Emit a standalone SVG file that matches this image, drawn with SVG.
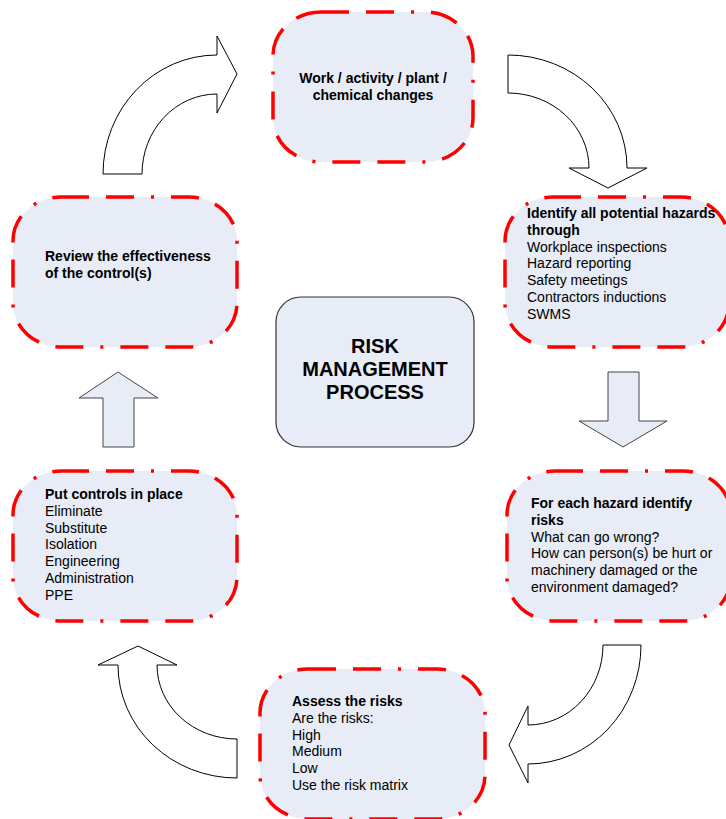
<svg xmlns="http://www.w3.org/2000/svg" width="726" height="819" viewBox="0 0 726 819">
<style>
.node{fill:#e7ecf6;stroke:#ff0000;stroke-width:3.5;stroke-dasharray:28 17 28 17 3 17}
.center{fill:#e7ecf6;stroke:#333;stroke-width:1.2}
.carrow{fill:#fff;stroke:#000;stroke-width:1}
.sarrow{fill:#e7ecf6;stroke:#444;stroke-width:1}
text{font-family:"Liberation Sans",Arial,sans-serif;font-size:14px;fill:#000}
.b{font-weight:bold}
.big{font-size:20px;font-weight:bold}
</style>
<rect width="726" height="819" fill="#fff"/>
<g id="connectors">
<path class="carrow" d="M103,174 A114,119 0 0 1 217,55 L217,36 L237,74 L217,113 L217,94 A75,80 0 0 0 142,174 Z"/>
<path class="carrow" d="M508,55 A119,113 0 0 1 627,168 L647,168 L608,188 L569,168 L589,168 A81,75 0 0 0 508,93 Z"/>
<path class="sarrow" d="M608,372 L639,372 L639,421 L667,421 L623,447 L579,421 L608,421 Z"/>
<path class="carrow" d="M603,645 L641,645 A113,119 0 0 1 528,764 L528,783 L509,745 L528,706 L528,725 A75,80 0 0 0 603,645 Z"/>
<path class="carrow" d="M237,778 A119,113 0 0 1 118,665 L98,665 L138,646 L177,665 L157,665 A80,74 0 0 0 237,739 Z"/>
<path class="sarrow" d="M103,447 L134,447 L134,398 L158,398 L118,372 L79,398 L103,398 Z"/>
</g>
<g id="node-changes">
<rect class="node" x="273" y="12" width="200" height="150" rx="48" ry="44"/>
<text class="b" x="373" y="83" text-anchor="middle">Work / activity / plant /</text>
<text class="b" x="373" y="100" text-anchor="middle">chemical changes</text>
</g>
<g id="node-identify">
<rect class="node" x="505" y="197" width="224" height="150" rx="48" ry="44"/>
<text x="527" y="218"><tspan class="b">Identify all potential hazards</tspan><tspan class="b" x="527" dy="16.8">through</tspan><tspan x="527" dy="16.8">Workplace inspections</tspan><tspan x="527" dy="16.8">Hazard reporting</tspan><tspan x="527" dy="16.8">Safety meetings</tspan><tspan x="527" dy="16.8">Contractors inductions</tspan><tspan x="527" dy="16.8">SWMS</tspan></text>
</g>
<g id="node-review">
<rect class="node" x="13" y="197" width="224" height="150" rx="48" ry="44"/>
<text class="b" x="45" y="261">Review the effectiveness</text>
<text class="b" x="45" y="278">of the control(s)</text>
</g>
<g id="node-center">
<rect class="center" x="276" y="297" width="198" height="150" rx="25" ry="25"/>
<text class="big" x="375" y="353" text-anchor="middle">RISK</text>
<text class="big" x="375" y="376" text-anchor="middle">MANAGEMENT</text>
<text class="big" x="375" y="399" text-anchor="middle">PROCESS</text>
</g>
<g id="node-risks">
<rect class="node" x="507" y="471" width="224" height="150" rx="48" ry="44"/>
<text x="531" y="508"><tspan class="b">For each hazard identify</tspan><tspan class="b" x="531" dy="16.8">risks</tspan><tspan x="531" dy="16.8">What can go wrong?</tspan><tspan x="531" dy="16.8">How can person(s) be hurt or</tspan><tspan x="531" dy="16.8">machinery damaged or the</tspan><tspan x="531" dy="16.8">environment damaged?</tspan></text>
</g>
<g id="node-controls">
<rect class="node" x="13" y="471" width="224" height="150" rx="48" ry="44"/>
<text x="45" y="499"><tspan class="b">Put controls in place</tspan><tspan x="45" dy="16.8">Eliminate</tspan><tspan x="45" dy="16.8">Substitute</tspan><tspan x="45" dy="16.8">Isolation</tspan><tspan x="45" dy="16.8">Engineering</tspan><tspan x="45" dy="16.8">Administration</tspan><tspan x="45" dy="16.8">PPE</tspan></text>
</g>
<g id="node-assess">
<rect class="node" x="260" y="669" width="225" height="150" rx="48" ry="44"/>
<text x="292" y="706"><tspan class="b">Assess the risks</tspan><tspan x="292" dy="16.8">Are the risks:</tspan><tspan x="292" dy="16.8">High</tspan><tspan x="292" dy="16.8">Medium</tspan><tspan x="292" dy="16.8">Low</tspan><tspan x="292" dy="16.8">Use the risk matrix</tspan></text>
</g>
</svg>
